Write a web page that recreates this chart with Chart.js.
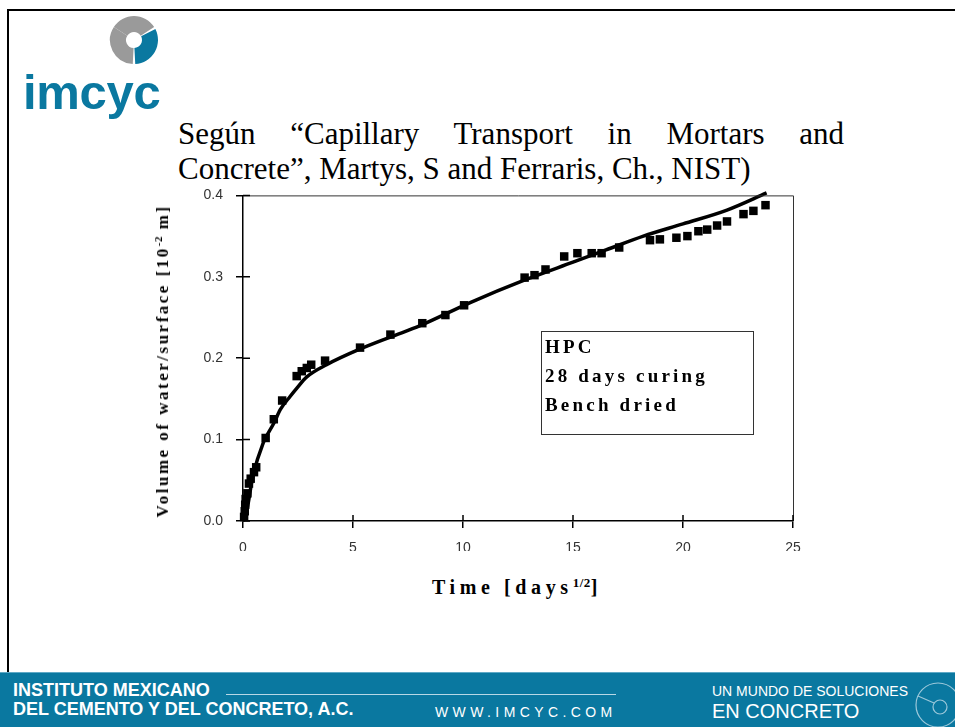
<!DOCTYPE html>
<html>
<head>
<meta charset="utf-8">
<script src="https://cdn.jsdelivr.net/npm/chart.js@4.4.1/dist/chart.umd.min.js"></script>
<style>
  body { margin: 0; width: 955px; height: 727px; position: relative; overflow: hidden; background: #fff; font-family: "Liberation Serif", serif; }
  .frame-top { position: absolute; left: 8px; top: 9px; width: 947px; height: 2px; background: #000; }
  .frame-left { position: absolute; left: 7px; top: 9px; width: 2px; height: 663px; background: #000; }
  .heading { position: absolute; left: 178px; top: 116px; width: 666px; font-size: 31px; line-height: 35px; color: #000; }
  .heading .l1 { text-align: justify; text-align-last: justify; white-space: nowrap; display: block; }
  .logo-word { position: absolute; left: 23px; top: 64px; font-family: "Liberation Sans", sans-serif; font-weight: bold; font-size: 49px; color: #0a78a0; letter-spacing: -0.3px; }
  .chartbox { position: absolute; left: 150px; top: 174px; width: 680px; height: 391px; }
  .ytitle { position: absolute; left: 163px; top: 361px; transform: translate(-50%, -50%) rotate(-90deg); white-space: nowrap; font-weight: bold; font-size: 17px; letter-spacing: 2.5px; }
  .xtitle { position: absolute; left: 432px; top: 576px; white-space: nowrap; font-weight: bold; font-size: 20px; letter-spacing: 4.6px; }
  sup { font-size: 0.65em; vertical-align: 0.55em; line-height: 0; letter-spacing: 0.5px; }
  .legend { position: absolute; left: 541px; top: 331px; width: 213px; height: 104px; border: 1px solid #333; font-weight: bold; font-size: 19px; letter-spacing: 3.2px; line-height: 29px; padding: 0 0 0 3px; box-sizing: border-box; }
  .footer { position: absolute; left: 0; top: 672px; width: 955px; height: 55px; background: #0a78a0; border-top: 1px solid #5fa9c6; color: #fff; font-family: "Liberation Sans", sans-serif; }
  .f1 { position: absolute; left: 13px; top: 7px; font-weight: bold; font-size: 18px; }
  .f2 { position: absolute; left: 13px; top: 26px; font-weight: bold; font-size: 18px; }
  .fline { position: absolute; left: 226px; top: 21px; width: 390px; height: 1px; background: #b8d8e6; }
  .f3 { position: absolute; left: 435px; top: 31px; font-size: 14px; letter-spacing: 4.4px; }
  .f4 { position: absolute; left: 712px; top: 10px; font-size: 14px; letter-spacing: 0px; }
  .f5 { position: absolute; left: 712px; top: 27px; font-size: 20px; }
  .fring { position: absolute; left: 910px; top: 8px; }
</style>
</head>
<body>
<div class="frame-top"></div>
<div class="frame-left"></div>

<svg style="position:absolute;left:107px;top:13px" width="54" height="54" viewBox="-27 -27 54 54">
  <path d="M -20.13 -13.07 A 24 24 0 0 1 20.13 -13.07 L 6.71 -4.36 A 8 8 0 0 0 -6.71 -4.36 Z" fill="#9a9a9a"/>
  <path d="M 21.38 -10.9 A 24 24 0 0 1 1.26 23.97 L 0.42 7.99 A 8 8 0 0 0 7.13 -3.63 Z" fill="#0a78a0"/>
  <path d="M -1.26 23.97 A 24 24 0 0 1 -20.13 -13.07 L -6.71 -4.36 A 8 8 0 0 0 -0.42 7.99 Z" fill="#9a9a9a"/>
</svg>
<div class="logo-word">imcyc</div>

<div class="heading"><span class="l1">Según “Capillary Transport in Mortars and</span>Concrete”, Martys, S and Ferraris, Ch., NIST)</div>

<div class="chartbox"><canvas id="chart"></canvas></div>

<div class="ytitle">Volume of water/surface [10<sup>-2</sup> m]</div>
<div class="xtitle">Time [days<sup>1/2</sup>]</div>

<div class="legend">HPC<br>28 days curing<br>Bench dried</div>

<div class="footer">
  <div class="f1">INSTITUTO MEXICANO</div>
  <div class="f2">DEL CEMENTO Y DEL CONCRETO, A.C.</div>
  <div class="fline"></div>
  <div class="f3">WWW.IMCYC.COM</div>
  <div class="f4">UN MUNDO DE SOLUCIONES</div>
  <div class="f5">EN CONCRETO</div>
  <svg class="fring" width="45" height="47" viewBox="0 0 45 47">
    <circle cx="28" cy="24" r="22" fill="none" stroke="#9cc8da" stroke-width="1.2"/>
    <circle cx="30" cy="26" r="7" fill="none" stroke="#9cc8da" stroke-width="1.2"/>
    <line x1="8" y1="15" x2="24" y2="22" stroke="#9cc8da" stroke-width="1.2"/>
  </svg>
</div>

<script>
// measured points (time in days^1/2, volume in 10^-2 m)
const timePts = [0.05, 0.08, 0.1, 0.12, 0.2, 0.27, 0.35, 0.5, 0.6, 1.03, 1.4, 1.78, 2.44, 2.67, 2.9, 3.1, 3.73,
  5.32, 6.7, 8.15, 9.2, 10.05, 12.8, 13.25, 13.75, 14.6, 15.2, 15.85, 16.3, 17.1, 18.5, 18.95, 19.7, 20.2,
  20.7, 21.1, 21.55, 22.0, 22.75, 23.2, 23.75];
const volumePts = [0.005, 0.012, 0.02, 0.027, 0.034, 0.046, 0.052, 0.06, 0.066, 0.102, 0.125, 0.148, 0.178, 0.184, 0.188, 0.192, 0.197,
  0.213, 0.229, 0.243, 0.253, 0.265, 0.299, 0.302, 0.309, 0.325, 0.329, 0.329, 0.329, 0.336, 0.345, 0.346, 0.348, 0.350,
  0.356, 0.358, 0.363, 0.368, 0.377, 0.381, 0.388];

// fitted model curve
const fitTime = [0, 0.15, 0.45, 0.92, 1.4, 1.7, 2.14, 2.44, 2.9, 3.8, 5.3, 6.7, 8.05, 10.3, 12.9, 15, 16.5, 18.2, 20, 22, 23.8];
const fitVolume = [0, 0.01, 0.055, 0.096, 0.12, 0.137, 0.153, 0.163, 0.177, 0.192, 0.211, 0.226, 0.24, 0.268, 0.297, 0.318, 0.333, 0.35, 0.365, 0.382, 0.403];

const xTicks = [0, 5, 10, 15, 20, 25];
const yTicks = [0.0, 0.1, 0.2, 0.3, 0.4];

const toXY = (xs, ys) => xs.map((x, i) => ({ x: x, y: ys[i] }));

// inner halves of the tick marks plus the top/right frame
const boxPlugin = {
  id: 'boxPlugin',
  afterDraw(chart) {
    const { ctx, chartArea: a, scales } = chart;
    ctx.save();
    ctx.strokeStyle = '#333';
    ctx.lineWidth = 1;
    ctx.beginPath();
    ctx.moveTo(a.left, a.top + 0.5);
    ctx.lineTo(a.right + 0.5, a.top + 0.5);
    ctx.lineTo(a.right + 0.5, a.bottom);
    ctx.stroke();
    ctx.strokeStyle = '#000';
    ctx.lineWidth = 1.5;
    ctx.beginPath();
    xTicks.forEach((t) => {
      const px = scales.x.getPixelForValue(t);
      ctx.moveTo(px, a.bottom);
      ctx.lineTo(px, a.bottom - 6);
    });
    yTicks.forEach((t) => {
      const py = scales.y.getPixelForValue(t);
      ctx.moveTo(a.left, py);
      ctx.lineTo(a.left + 7, py);
    });
    ctx.stroke();
    ctx.restore();
  }
};

new Chart(document.getElementById('chart'), {
  type: 'scatter',
  data: {
    datasets: [
      {
        label: 'Model',
        type: 'line',
        data: toXY(fitTime, fitVolume),
        borderColor: '#000',
        borderWidth: 3.5,
        pointRadius: 0,
        fill: false,
        cubicInterpolationMode: 'monotone',
        clip: false,
        order: 2
      },
      {
        label: 'HPC',
        data: toXY(timePts, volumePts),
        pointStyle: 'rect',
        pointRadius: 6,
        backgroundColor: '#000',
        borderWidth: 0,
        clip: false,
        order: 1
      }
    ]
  },
  plugins: [boxPlugin],
  options: {
    responsive: true,
    maintainAspectRatio: false,
    animation: false,
    layout: { autoPadding: false, padding: { left: 43, right: 37, top: 11, bottom: 14 } },
    plugins: { legend: { display: false }, tooltip: { enabled: false } },
    scales: {
      x: {
        type: 'linear',
        min: 0,
        max: 25,
        afterFit: (s) => { s.height = 30; },
        afterBuildTicks: (s) => { s.ticks = xTicks.map((v) => ({ value: v })); },
        grid: { drawOnChartArea: false, drawTicks: true, tickLength: 7, color: '#000', lineWidth: 1.5 },
        border: { display: true, color: '#000', width: 1.5 },
        ticks: { color: '#333', padding: 12, font: { family: 'Liberation Sans', size: 14 } }
      },
      y: {
        min: 0,
        max: 0.4,
        afterFit: (s) => { s.width = 50; },
        afterBuildTicks: (s) => { s.ticks = yTicks.map((v) => ({ value: v })); },
        grid: { drawOnChartArea: false, drawTicks: true, tickLength: 7, color: '#000', lineWidth: 1.5 },
        border: { display: true, color: '#000', width: 1.5 },
        ticks: {
          color: '#333',
          padding: 13,
          font: { family: 'Liberation Sans', size: 14 },
          callback: (v) => v.toFixed(1)
        }
      }
    }
  }
});
</script>
</body>
</html>
